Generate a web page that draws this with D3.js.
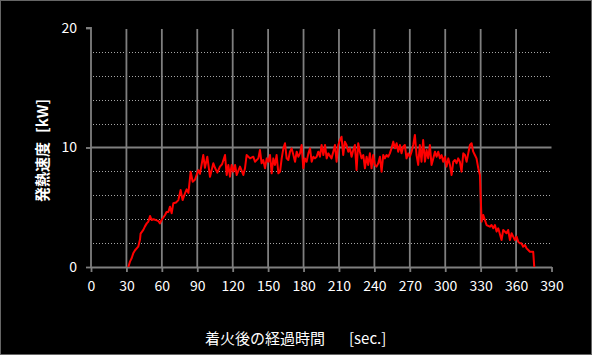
<!DOCTYPE html>
<html>
<head>
<meta charset="utf-8">
<script src="https://cdn.jsdelivr.net/npm/d3@7"></script>
<style>
html,body{margin:0;padding:0;background:#000;}
svg{display:block;}
text{font-family:"Noto Sans CJK JP","Noto Sans",sans-serif;fill:#fff;}
</style>
</head>
<body>
<svg id="chart" width="592" height="355"></svg>
<script>
// ---- data ----
const xTicks = [0,30,60,90,120,150,180,210,240,270,300,330,360,390];
const yTicks = [0,10,20];
const yMinor = [2,4,6,8,12,14,16,18];
const xTitle = "着火後の経過時間";
const xUnit = "[sec.]";
const yTitle = "発熱速度";
const yUnit = "[kW]";
const time = [
31.6,33,34.5,35.8,37.3,40,41.5,42,44.3,45.7,47.2,48.6,50,51.4,53,55.6,57,58.4,59.8,62.7,64,65.5,66.9,68.3,69.7,72,74,75.9,77.6,79.6,81,82.5,84.4,86.1,88,90.9,92.3,95.1,96.5,98.5,100.8,103.6,105,107,109.2,111,
113.5,114.9,116.3,117.7,119.1,120.6,122.0,123.4,126.2,129.0,130.4,131.8,134.7,137.5,138.9,141.7,143.1,144.5,145.9,147.4,148.8,150.2,151.6,153.0,154.4,155.8,157.2,158.7,160.1,161.5,162.9,164.3,165.7,167.1,168.5,169.9,171.4,172.8,174.2,175.6,177.0,178.4,179.8,181.2,182.6,184.1,185.5,186.9,188.3,189.7,191.1,192.5,193.9,195.3,196.8,198.2,199.6,201.0,
203.7,205.2,206.6,208.0,209.4,210.8,212.2,213.6,215.0,216.4,217.9,219.3,220.7,222.1,223.5,224.9,226.3,227.7,229.1,230.6,232.0,233.4,234.8,236.2,237.6,239.0,240.4,241.8,243.3,244.7,246.1,247.5,248.9,250.3,251.7,253.1,254.5,256.0,257.4,258.8,260.2,261.6,263.0,264.4,265.8,267.2,268.7,270.1,271.5,272.9,274.3,275.7,277.1,278.5,279.9,281.3,282.8,284.2,285.6,
287.0,288.4,289.9,291.3,292.7,294.1,295.5,296.9,298.3,299.7,301.1,302.6,304.0,305.4,306.8,308.2,309.6,311.0,312.4,313.8,315.3,316.7,318.1,319.5,320.9,322.3,323.7,325.1,326.5,328.0,329.4,330.2,330.8,332.2,333.6,335.0,337.8,339.2,340.7,342.1,343.5,344.9,347.7,349.1,351.9,353.3,354.8,356.2,357.6,359.0,360.4,361.8,363.2,364.6,366.0,367.5,368.9,370.3,371.7,374.5,375.4
];
const hrr = [
0,0.45,0.75,1.15,1.4,1.7,2.3,2.8,3.1,3.4,3.65,3.8,4.27,3.93,4.0,3.9,3.85,3.65,3.93,4.35,4.6,4.6,5.05,4.5,5.33,5.4,5.6,6.44,5.6,6.17,6.5,6.2,7.97,7.14,7.3,8.1,7.8,9.37,8.3,9.23,7.55,8.68,8.3,7.9,8.4,8.6,
9.37,7.70,8.54,7.56,8.54,7.98,8.54,7.70,8.40,7.70,8.26,9.37,9.09,9.23,8.81,9.09,9.79,8.68,8.95,8.26,9.09,8.81,9.37,7.84,9.09,8.54,9.37,7.84,7.98,9.09,9.93,10.35,9.09,8.95,9.65,9.93,9.37,8.81,9.65,9.23,9.51,10.21,8.26,9.09,8.81,9.51,9.93,8.81,9.23,9.09,9.23,9.65,9.23,10.21,9.37,10.21,9.09,9.51,
9.09,9.65,10.21,8.81,10.21,10.63,10.9,9.37,10.49,10.21,9.65,9.93,9.23,9.79,10.21,8.12,10.35,9.65,9.09,9.37,8.26,9.23,8.54,9.51,8.26,9.37,8.54,8.40,8.68,9.23,7.98,9.37,9.09,9.37,9.23,9.51,9.93,10.49,9.93,10.35,9.65,10.21,9.51,10.07,10.21,9.09,9.51,9.23,9.65,10.21,11.05,9.37,8.54,10.21,8.81,10.63,8.81,9.79,9.09,
10.21,8.54,9.09,9.65,9.23,9.65,9.09,9.37,8.81,9.23,8.40,9.09,8.54,7.70,8.81,8.95,8.68,9.09,8.81,7.98,9.51,9.37,8.81,9.51,10.21,10.35,9.65,9.37,9.09,8.26,7.70,5.47,3.79,4.35,3.93,3.51,3.37,3.51,3.24,3.51,2.96,3.24,2.26,3.10,2.82,3.10,2.26,2.82,2.54,2.26,2.54,2.12,1.98,1.98,1.70,1.84,1.56,1.42,1.28,1.28,0
];

// ---- drawing ----
const svg = d3.select("#chart");
svg.append("rect").attr("x",0).attr("y",0).attr("width",592).attr("height",355).attr("fill","#000");
svg.append("rect").attr("x",0.5).attr("y",0.5).attr("width",591).attr("height",354)
  .attr("fill","none").attr("stroke","#666").attr("stroke-width",1);

const x = d3.scaleLinear().domain([0,390]).range([91,551.5]);
const y = d3.scaleLinear().domain([0,20]).range([267,28]);
const gridCol = "#7f7f7f";

// minor dotted horizontal lines
svg.append("g").selectAll("line").data(yMinor).join("line")
  .attr("x1",93).attr("x2",x(390))
  .attr("y1",d=>Math.round(y(d))+0.5).attr("y2",d=>Math.round(y(d))+0.5)
  .attr("stroke","#a6a6a6").attr("stroke-width",1).attr("stroke-dasharray","1,2");

// vertical solid gridlines
svg.append("g").selectAll("line").data(xTicks.filter(d=>d>0 && d<390)).join("line")
  .attr("x1",d=>x(d)).attr("x2",d=>x(d))
  .attr("y1",y(20)+1).attr("y2",y(0))
  .attr("stroke",gridCol).attr("stroke-width",1.8);

// horizontal major gridline at 10
svg.append("line").attr("x1",x(0)).attr("x2",x(390)).attr("y1",y(10)).attr("y2",y(10))
  .attr("stroke",gridCol).attr("stroke-width",1.8);

// axes
const xAxis = d3.axisBottom(x).tickValues(xTicks).tickSize(5).tickPadding(9).tickSizeOuter(0);
const gx = svg.append("g").attr("transform",`translate(0,${y(0)})`).call(xAxis);
const yAxis = d3.axisLeft(y).tickValues(yTicks).tickSize(5).tickPadding(9).tickSizeOuter(0);
const gy = svg.append("g").attr("transform",`translate(${x(0)},0)`).call(yAxis);
[gx,gy].forEach(g=>{
  g.select(".domain").attr("stroke",gridCol).attr("stroke-width",1.8);
  g.selectAll(".tick line").attr("stroke",gridCol).attr("stroke-width",1.8);
  g.selectAll(".tick text").attr("fill","#fff").style("font-size","14px")
    .style("font-family",'"Noto Sans CJK JP","Noto Sans",sans-serif');
});
gy.select(".domain").attr("d",`M0,${y(0)}V${y(20)}H-5`);

// data line
const pts = time.map((t,i)=>[t,hrr[i]]);
svg.append("path").datum(pts)
  .attr("fill","none").attr("stroke","#ff0000").attr("stroke-width",2)
  .attr("stroke-linejoin","round")
  .attr("d",d3.line().x(d=>x(d[0])).y(d=>y(d[1])));

// titles
const xt = svg.append("text").attr("x",205).attr("y",344).style("font-size","15px");
xt.append("tspan").text(xTitle);
xt.append("tspan").attr("x",349).text(xUnit);

const yt = svg.append("text").attr("transform","translate(48,202) rotate(-90)").style("font-size","15px").style("font-weight","bold");
yt.append("tspan").text(yTitle);
yt.append("tspan").attr("dx",9).text(yUnit);
</script>
</body>
</html>
